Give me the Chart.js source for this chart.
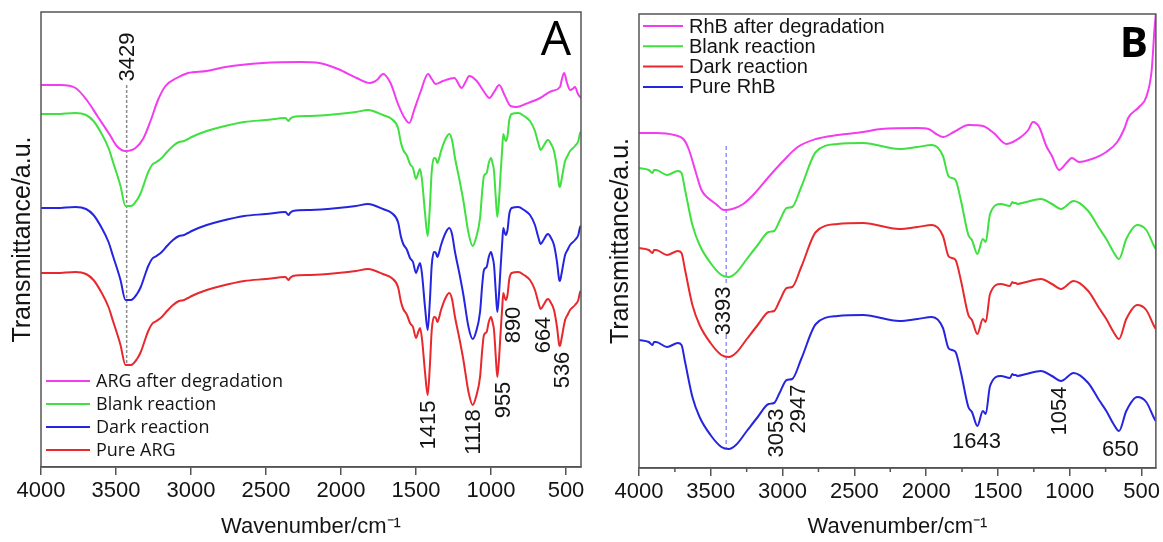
<!DOCTYPE html>
<html>
<head>
<meta charset="utf-8">
<script src="https://cdn.jsdelivr.net/npm/chart.js@4.4.1/dist/chart.umd.min.js"></script>
<style>
    html, body { margin: 0; padding: 0; background: #fff; }
    #wrap { position: relative; width: 1163px; height: 542px; }
    #chart-a { position: absolute; left: 0; top: 0; }
    #chart-b { position: absolute; left: 600px; top: 0; }
</style>
</head>
<body>
<div id="wrap">
    <canvas id="chart-a" width="600" height="542"></canvas>
    <canvas id="chart-b" width="563" height="542"></canvas>
</div>
<script>
// x axis ticks (wavenumber, cm-1)
const tick_labels = [4000, 3500, 3000, 2500, 2000, 1500, 1000, 500]
const minor_ticks_b = [3750, 3250, 2750, 2250, 1750, 1250, 750]

// ---------- panel A : ARG ----------
const labels_a = ['ARG after degradation', 'Blank reaction', 'Dark reaction', 'Pure ARG']

const arg_deg_wn = [4000, 3870, 3770, 3695, 3620, 3545, 3495, 3437, 3370, 3320, 3270, 3220, 3170, 3095, 3020,
    2895, 2770, 2520, 2270, 2145, 2020, 1895, 1807, 1760, 1720, 1670, 1620, 1580, 1545, 1510, 1470, 1420, 1395,
    1370, 1320, 1245, 1195, 1170, 1145, 1095, 1050, 1010, 980, 945, 910, 870, 829, 770, 673, 595, 540, 527, 512,
    495, 473, 457, 440, 420, 406, 400]
const arg_deg = [382, 382, 379, 367, 350, 333, 321, 316, 319, 328, 346, 367, 381, 389, 394,
    396, 400, 404, 405, 404, 398, 389, 384, 387, 393, 384, 363, 350, 344, 358, 375, 393, 388,
    383, 386, 389, 379, 385, 391, 386, 376, 369, 375, 382, 372, 361, 360, 363, 369, 376, 380, 388, 394,
    385, 377, 378, 380, 373, 370, 369]

// shared wavenumber grid of blank / dark / pure ARG
const arg_wn = [4000, 3900, 3770, 3700, 3650, 3595, 3550, 3520, 3470, 3437, 3400, 3360, 3335, 3300, 3285, 3260,
    3230, 3195, 3160, 3120, 3080, 3045, 3020, 2995, 2950, 2895, 2800, 2645, 2500, 2370, 2350, 2340, 2320, 2200,
    2020, 1900, 1820, 1786, 1720, 1662, 1620, 1600, 1585, 1560, 1540, 1520, 1500, 1485, 1473, 1460, 1440, 1422,
    1408, 1395, 1380, 1367, 1358, 1351, 1333, 1300, 1278, 1260, 1240, 1210, 1184, 1150, 1122, 1100, 1073, 1058,
    1047, 1029, 1015, 1000, 990, 980, 968, 958, 948, 935, 925, 918, 910, 902, 890, 878, 862, 818, 780, 740, 707,
    685, 669, 650, 630, 619, 600, 580, 560, 545, 540, 530, 506, 490, 473, 440, 418, 406, 400]
const arg_blank = [353, 353, 354, 352, 346, 333, 319, 305, 281, 261, 261, 267, 274, 289, 295, 302,
    305, 309, 315, 321, 325, 326, 328, 330, 333, 336, 340, 345, 347, 349, 346, 348, 350, 351,
    353, 355, 357, 356, 352, 348, 339, 324, 317, 311, 303, 299, 288, 294, 298, 287, 254, 231,
    259, 296, 309, 308, 304, 306, 316, 329, 333, 327, 309, 287, 266, 234, 221, 229, 249, 277,
    291, 294, 304, 309, 304, 296, 269, 250, 264, 296, 319, 333, 329, 326, 331, 347, 353, 354, 351, 346, 336,
    324, 317, 321, 326, 327, 323, 316, 299, 281, 280, 287, 306, 311, 316, 321, 326, 334, 335]
const arg_dark = [259, 259, 260, 258, 252, 239, 225, 211, 187, 167, 167, 173, 180, 195, 201, 208,
    211, 215, 221, 227, 231, 232, 234, 236, 239, 242, 246, 251, 253, 255, 252, 254, 256, 257,
    259, 261, 263, 262, 258, 254, 245, 230, 223, 217, 209, 205, 194, 200, 204, 193, 160, 137,
    165, 202, 215, 214, 210, 212, 222, 235, 239, 233, 215, 193, 172, 140, 128, 135, 155, 183,
    197, 200, 210, 215, 210, 202, 175, 155, 170, 202, 225, 239, 235, 232, 237, 253, 259, 260, 257, 252, 242,
    230, 223, 227, 232, 233, 229, 222, 205, 187, 186, 193, 212, 217, 222, 227, 232, 240, 241]
const arg_pure = [194, 194, 195, 193, 187, 174, 160, 146, 122, 102, 102, 108, 115, 130, 136, 143,
    146, 150, 156, 162, 166, 167, 169, 171, 174, 177, 181, 186, 188, 190, 187, 189, 191, 192,
    194, 196, 198, 197, 193, 189, 180, 165, 158, 152, 144, 140, 129, 135, 139, 128, 95, 72,
    100, 137, 150, 149, 145, 147, 157, 170, 174, 168, 150, 128, 107, 75, 62, 70, 90, 118,
    132, 135, 145, 150, 145, 137, 110, 90, 105, 137, 160, 174, 170, 167, 172, 188, 194, 195, 192, 187, 177,
    165, 158, 162, 167, 168, 164, 157, 140, 122, 121, 128, 147, 152, 157, 162, 167, 175, 176]

const peak_text_a = ['3429', '1415', '1118', '955', '890', '664', '536']
const peak_x_a = [3429, 1418, 1118, 918, 851, 651, 524]
const peak_y_a = [410, 42, 35, 67, 142, 132, 97]

// ---------- panel B : RhB ----------
const labels_b = ['RhB after degradation', 'Blank reaction', 'Dark reaction', 'Pure RhB']

const rhb_deg_wn = [4000, 3881, 3755, 3691, 3654, 3603, 3565, 3527, 3464, 3408, 3350, 3274, 3198, 3097, 2996,
    2895, 2768, 2617, 2440, 2313, 2060, 1984, 1930, 1883, 1807, 1706, 1605, 1529, 1441, 1340, 1289, 1256, 1213,
    1163, 1124, 1074, 1023, 985, 935, 846, 745, 669, 618, 593, 517, 467, 429, 409, 400]
const rhb_deg = [335, 335, 333, 329, 319, 295, 278, 271, 264, 258, 259, 264, 274, 291, 307,
    321, 329, 333, 336, 339, 340, 339, 334, 331, 336, 343, 342, 335, 324, 331, 338, 346, 341,
    322, 312, 298, 305, 310, 306, 309, 316, 326, 340, 350, 361, 371, 398, 440, 454]

const rhb_wn = [4000, 3932, 3906, 3895, 3881, 3805, 3729, 3704, 3679, 3628, 3578, 3502, 3426, 3375, 3325, 3249,
    3173, 3097, 3059, 3021, 2971, 2933, 2870, 2768, 2617, 2440, 2187, 2060, 1959, 1883, 1845, 1820, 1795, 1757,
    1706, 1681, 1643, 1605, 1585, 1555, 1479, 1416, 1400, 1390, 1375, 1365, 1302, 1201, 1124, 1061, 973, 871,
    796, 745, 695, 657, 606, 530, 467, 409, 400]
const rhb_blank = [300, 298, 295, 298, 298, 293, 297, 295, 278, 243, 223, 205, 193, 191, 195, 209,
    223, 236, 237, 247, 260, 261, 281, 316, 324, 325, 319, 321, 323, 312, 292, 290, 288, 267,
    233, 228, 214, 229, 226, 254, 264, 262, 266, 265, 265, 264, 266, 269, 264, 259, 267, 257,
    240, 229, 216, 209, 229, 243, 238, 221, 219]
const rhb_dark = [220, 218, 215, 218, 218, 213, 217, 215, 198, 163, 143, 125, 113, 111, 115, 129,
    143, 156, 157, 167, 180, 181, 201, 236, 244, 245, 239, 241, 243, 232, 212, 210, 208, 187,
    153, 148, 134, 149, 146, 174, 184, 182, 186, 185, 185, 184, 186, 189, 184, 179, 187, 177,
    160, 149, 136, 129, 149, 163, 158, 141, 139]
const rhb_pure = [128, 126, 123, 126, 126, 121, 125, 123, 106, 71, 51, 33, 21, 19, 23, 37,
    51, 64, 65, 75, 88, 89, 109, 144, 152, 153, 147, 149, 151, 140, 120, 118, 116, 95,
    61, 56, 42, 57, 54, 82, 92, 90, 94, 93, 93, 92, 94, 97, 92, 87, 95, 85,
    68, 57, 44, 37, 57, 71, 66, 49, 47]

const peak_text_b = ['3393', '3053', '2947', '1643', '1054', '650']
const peak_x_b = [3412, 3043, 2891, 1650, 1075, 648]
const peak_y_b = [157, 35, 59, 27, 57, 19]
const peak_vertical_b = [true, true, true, false, true, false]

const MAGENTA = '#f23cf0'
const GREEN = '#3fe03f'
const BLUE = '#2525e0'
const RED = '#e8282c'
const AXIS = '#555'
const TEXT = '#141414'
const SANS = '"Liberation Sans", Arial, sans-serif'

const to_points = (xs, ys) => xs.map((x, i) => ({x: x, y: ys[i]}))

const spectrum = (label, xs, ys, color) => ({
    label: label,
    data: to_points(xs, ys),
    borderColor: color,
    borderWidth: 2,
    pointRadius: 0,
    fill: false,
    cubicInterpolationMode: 'monotone',
    in_legend: true,
})

const frame_plugin = {
    id: 'frame',
    afterDraw(chart) {
        const {ctx, chartArea: a} = chart
        ctx.save()
        ctx.strokeStyle = AXIS
        ctx.lineWidth = 1.5
        ctx.strokeRect(a.left, a.top, a.right - a.left, a.bottom - a.top)
        ctx.restore()
    }
}

const minor_ticks = (values) => ({
    id: 'minorTicks',
    afterDraw(chart) {
        const {ctx, chartArea: a, scales: {x}} = chart
        ctx.save()
        ctx.strokeStyle = AXIS
        ctx.lineWidth = 1.5
        ctx.beginPath()
        values.forEach(v => {
            const px = x.getPixelForValue(v)
            ctx.moveTo(px, a.bottom)
            ctx.lineTo(px, a.bottom + 4)
        })
        ctx.stroke()
        ctx.restore()
    }
})

const inner_legend = (left, top, gap, len, font) => ({
    id: 'innerLegend',
    afterDraw(chart) {
        const ctx = chart.ctx
        ctx.save()
        ctx.font = font
        ctx.textBaseline = 'middle'
        chart.data.datasets.filter(d => d.in_legend).forEach((d, i) => {
            const y = top + i * gap
            ctx.strokeStyle = d.borderColor
            ctx.lineWidth = 2
            ctx.beginPath()
            ctx.moveTo(left, y)
            ctx.lineTo(left + len, y)
            ctx.stroke()
            ctx.fillStyle = TEXT
            ctx.fillText(d.label, left + len + 6, y + 1)
        })
        ctx.restore()
    }
})

const peak_labels = (texts, xs, ys, vertical) => ({
    id: 'peakLabels',
    afterDatasetsDraw(chart) {
        const {ctx, scales: {x, y}} = chart
        texts.forEach((t, i) => {
            ctx.save()
            ctx.translate(x.getPixelForValue(xs[i]), y.getPixelForValue(ys[i]))
            if (vertical[i]) ctx.rotate(-Math.PI / 2)
            ctx.font = '22px ' + SANS
            ctx.textAlign = 'center'
            ctx.textBaseline = 'middle'
            ctx.fillStyle = TEXT
            ctx.fillText(t, 0, 1)
            ctx.restore()
        })
    }
})

const panel_letter = (letter, font, right_gap, baseline) => ({
    id: 'panelLetter',
    afterDraw(chart) {
        const {ctx, chartArea: a} = chart
        ctx.save()
        ctx.font = font
        ctx.textAlign = 'right'
        ctx.textBaseline = 'alphabetic'
        ctx.fillStyle = '#000'
        ctx.fillText(letter, a.right - right_gap, a.top + baseline)
        ctx.restore()
    }
})

const make_chart = (canvas_id, datasets, y_max, y_width, x_height, y_title_pad, pad, plugins) => {
    return new Chart(document.getElementById(canvas_id), {
        type: 'line',
        data: {datasets: datasets},
        options: {
            responsive: false,
            animation: false,
            devicePixelRatio: 1,
            layout: {padding: pad},
            scales: {
                x: {
                    type: 'linear',
                    reverse: true,
                    min: 400,
                    max: 4000,
                    afterBuildTicks: (s) => { s.ticks = tick_labels.map(v => ({value: v})) },
                    afterFit: (s) => { s.height = x_height },
                    ticks: {
                        callback: (v) => String(v),
                        font: {family: SANS, size: 22},
                        color: TEXT,
                        padding: 3,
                        maxRotation: 0,
                        autoSkip: false,
                    },
                    grid: {drawOnChartArea: false, tickLength: 8, color: AXIS, lineWidth: 1.5},
                    border: {color: AXIS, width: 1.5},
                    title: {
                        display: true,
                        text: 'Wavenumber/cm\u207B\u00B9',
                        font: {family: SANS, size: 22},
                        color: TEXT,
                        padding: {top: 0, bottom: 2},
                    },
                },
                y: {
                    min: 0,
                    max: y_max,
                    afterFit: (s) => { s.width = y_width },
                    ticks: {display: false},
                    grid: {display: false},
                    border: {display: false},
                    title: {
                        display: true,
                        text: 'Transmittance/a.u.',
                        font: {family: SANS, size: 25},
                        color: TEXT,
                        padding: {top: y_title_pad, bottom: 0},
                    },
                },
            },
            plugins: {
                legend: {display: false},
                tooltip: {enabled: false},
            },
        },
        plugins: plugins,
    })
}

// panel A
make_chart('chart-a', [
    spectrum(labels_a[0], arg_deg_wn, arg_deg, MAGENTA),
    spectrum(labels_a[1], arg_wn, arg_blank, GREEN),
    spectrum(labels_a[2], arg_wn, arg_dark, BLUE),
    spectrum(labels_a[3], arg_wn, arg_pure, RED),
    {
        data: [{x: 3429, y: 382}, {x: 3429, y: 102}],
        borderColor: '#8a8a8a',
        borderWidth: 1.5,
        borderDash: [3, 2],
        pointRadius: 0,
    },
], 455, 41, 75, 8, {top: 12, right: 19, left: 0, bottom: 0}, [
    frame_plugin,
    peak_labels(peak_text_a, peak_x_a, peak_y_a, peak_text_a.map(() => true)),
    inner_legend(46, 381, 23, 44, '18px "Open Sans", sans-serif'),
    panel_letter('A', '48px "Open Sans", sans-serif', 10, 43),
])

// panel B
make_chart('chart-b', [
    spectrum(labels_b[0], rhb_deg_wn, rhb_deg, MAGENTA),
    spectrum(labels_b[1], rhb_wn, rhb_blank, GREEN),
    spectrum(labels_b[2], rhb_wn, rhb_dark, RED),
    spectrum(labels_b[3], rhb_wn, rhb_pure, BLUE),
    {
        data: [{x: 3393, y: 322}, {x: 3393, y: 182}, {x: 3393, y: null}, {x: 3393, y: 133}, {x: 3393, y: 19}],
        borderColor: '#5a5af0',
        borderWidth: 1,
        borderDash: [4, 3],
        pointRadius: 0,
    },
], 454, 39, 74, 6, {top: 14, right: 5, left: 0, bottom: 0}, [
    frame_plugin,
    minor_ticks(minor_ticks_b),
    peak_labels(peak_text_b, peak_x_b, peak_y_b, peak_vertical_b),
    inner_legend(43, 26, 20.3, 40, '20px ' + SANS),
    panel_letter('B', 'bold 42px "Open Sans", sans-serif', 8, 43),
])
</script>
</body>
</html>
